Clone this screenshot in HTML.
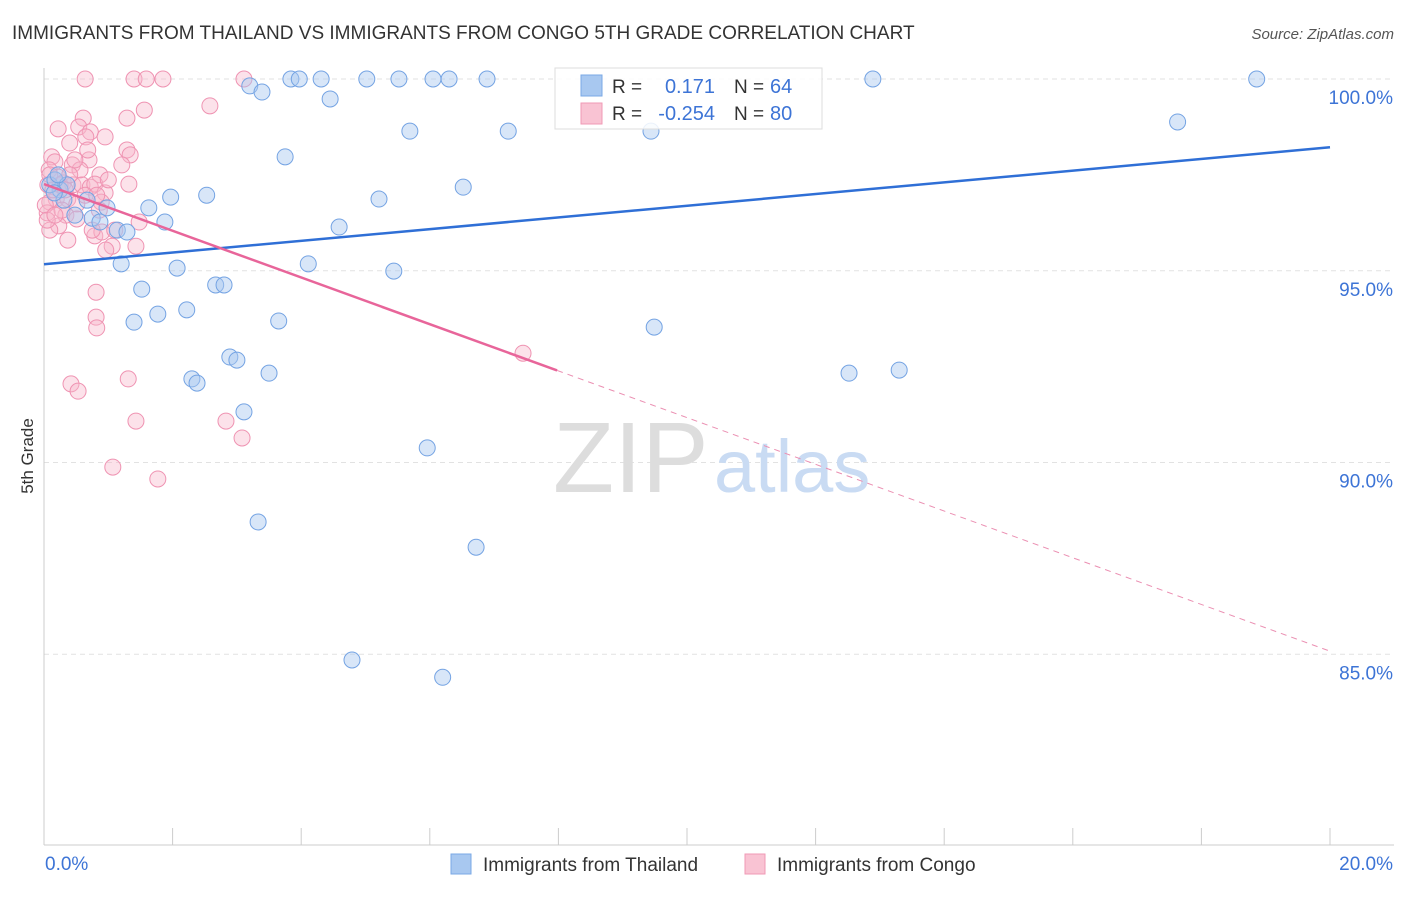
<!DOCTYPE html>
<html><head><meta charset="utf-8"><style>
body{margin:0;background:#fff;font-family:"Liberation Sans",sans-serif;}
svg text{font-family:"Liberation Sans",sans-serif;}
</style></head><body>
<svg id="chart" width="1406" height="892">
<text x="12" y="39" font-size="19" fill="#333">IMMIGRANTS FROM THAILAND VS IMMIGRANTS FROM CONGO 5TH GRADE CORRELATION CHART</text>
<text x="1394" y="39" font-size="15" fill="#555" text-anchor="end" font-style="italic">Source: ZipAtlas.com</text>
<text x="33" y="456" font-size="17" fill="#333" transform="rotate(-90 33 456)" text-anchor="middle">5th Grade</text>
<g id="grid"></g>
<text x="553" y="492" font-size="100" fill="#ddd" font-family="Liberation Serif">ZIP</text>
<text x="714" y="492" font-size="74" fill="#c9dbf3">atlas</text>
<g id="pts"></g>
<g id="lines"></g>
<g>
<rect x="555" y="68" width="267" height="61" fill="#fff" fill-opacity="0.85" stroke="#ddd"/>
<rect x="581" y="75" width="21" height="21" fill="#a8c8f0" stroke="#7aa8e6"/>
<rect x="581" y="103" width="21" height="21" fill="#f9c3d3" stroke="#f09ab6"/>
<text x="612" y="93" font-size="19" fill="#333">R =</text>
<text x="715" y="93" font-size="20" fill="#3d74d6" text-anchor="end">0.171</text>
<text x="734" y="93" font-size="19" fill="#333">N =</text>
<text x="770" y="93" font-size="20" fill="#3d74d6">64</text>
<text x="612" y="120" font-size="19" fill="#333">R =</text>
<text x="715" y="120" font-size="20" fill="#3d74d6" text-anchor="end">-0.254</text>
<text x="734" y="120" font-size="19" fill="#333">N =</text>
<text x="770" y="120" font-size="20" fill="#3d74d6">80</text>
</g>
<g>
<rect x="451" y="854" width="20" height="20" fill="#a8c8f0" stroke="#7aa8e6"/>
<text x="483" y="871" font-size="19" fill="#333">Immigrants from Thailand</text>
<rect x="745" y="854" width="20" height="20" fill="#f9c3d3" stroke="#f09ab6"/>
<text x="777" y="871" font-size="19" fill="#333">Immigrants from Congo</text>
</g>
</svg>
<script>
const blueX=[3.20,3.39,3.84,3.97,4.31,5.02,5.52,6.05,6.30,6.89,12.89,18.86,4.45,5.69,7.22,9.44,17.63,3.75,6.52,5.21,1.97,2.53,1.63,0.98,0.67,0.25,0.09,0.17,0.48,0.75,0.87,1.14,1.29,1.88,4.59,1.20,2.07,4.11,5.44,1.52,2.67,2.80,2.22,1.77,1.40,3.65,9.49,2.89,3.00,3.50,2.30,2.38,12.52,13.30,3.11,5.96,3.33,6.72,4.79,6.20,0.36,0.31,0.16,0.22];
const blueY=[99.82,99.66,100,100,100,100,100,100,100,100,100,100,99.48,98.64,98.64,98.64,98.88,97.97,97.18,96.87,96.92,96.97,96.64,96.64,96.84,97.11,97.24,97.37,96.45,96.37,96.27,96.06,96.01,96.27,96.14,95.18,95.07,95.18,94.99,94.52,94.63,94.63,93.98,93.87,93.66,93.69,93.53,92.75,92.67,92.33,92.18,92.07,92.33,92.41,91.32,90.38,88.45,87.79,84.85,84.40,97.24,96.84,97.03,97.50];
const pinkX=[0.64,1.40,1.59,1.85,3.11,2.58,1.56,0.61,1.29,0.22,0.54,0.72,0.95,0.65,0.40,1.29,1.34,0.12,0.17,0.70,0.44,1.21,0.87,0.08,0.22,0.30,0.45,0.59,0.72,0.79,1.32,0.95,0.19,0.09,0.37,0.51,0.89,0.86,0.05,0.34,0.51,0.23,0.09,0.79,0.90,1.48,0.37,1.06,0.96,1.43,0.81,0.81,0.82,0.42,0.53,1.31,1.43,2.83,3.08,1.07,1.77,7.45,0.06,0.14,0.25,0.33,0.02,0.56,0.68,0.05,1.00,0.28,0.64,0.17,0.75,1.10,0.40,0.09,0.48,0.82];
const pinkY=[100,100,100,100,100,99.30,99.19,98.98,98.98,98.70,98.75,98.62,98.49,98.49,98.33,98.15,98.02,97.97,97.84,97.89,97.76,97.76,97.50,97.63,97.44,97.29,97.24,97.24,97.18,97.26,97.26,97.03,96.87,96.79,96.87,96.74,96.79,96.58,96.51,96.45,96.35,96.17,96.06,95.91,96.01,96.27,95.80,95.64,95.54,95.64,94.44,93.79,93.51,92.05,91.86,92.18,91.08,91.08,90.64,89.88,89.57,92.85,97.24,97.11,97.24,97.11,96.71,97.63,98.15,96.32,97.37,96.58,96.97,96.45,96.06,96.06,97.50,97.50,97.89,96.97];
const blueTrend=[95.17,98.22];
const pinkTrend=[97.26,85.08];
const yTicks=[100,95,90,85];
const yTickLabels=["100.0%","95.0%","90.0%","85.0%"];
const xTickLabels=["0.0%","20.0%"];

const X=v=>44+v/20*1286;
const Y=v=>79+(100-v)*38.35;
const NS="http://www.w3.org/2000/svg";
function mk(tag,attrs,parent){const e=document.createElementNS(NS,tag);for(const k in attrs)e.setAttribute(k,attrs[k]);parent.appendChild(e);return e;}
const grid=document.getElementById('grid');
yTicks.forEach((t,i)=>{
  const l=mk('line',{x1:44,x2:1394,y1:Y(t),y2:Y(t),stroke:'#e2e2e2','stroke-dasharray':'5,4'},grid);
  
  
  const tx=mk('text',{x:1393,y:Y(t)+25,'font-size':19,fill:'#3d74d6','text-anchor':'end'},grid);
  tx.textContent=yTickLabels[i];
  
  
});
const ax=mk('line',{x1:44,x2:44,y1:68,y2:845,stroke:'#ccc'},grid);


const bx=mk('line',{x1:44,x2:1394,y1:845,y2:845,stroke:'#ccc'},grid);


for(let i=0;i<=10;i++){
  const t=mk('line',{x1:X(i*2),x2:X(i*2),y1:828,y2:845,stroke:'#ccc'},grid);
  
  
}
[[0,'start',X(0)+1],[20,'end',1393]].forEach((a,i)=>{
  const tx=mk('text',{x:a[2],y:870,'font-size':19,fill:'#3d74d6','text-anchor':a[1]},grid);
  tx.textContent=xTickLabels[i];
  
  
});
const pts=document.getElementById('pts');
pinkX.forEach((x,i)=>{
  const c=mk('circle',{cx:X(x),cy:Y(pinkY[i]),r:8,fill:'#f7b6ca','fill-opacity':0.4,stroke:'#ef93b2','stroke-width':1},pts);
  
  
});
blueX.forEach((x,i)=>{
  const c=mk('circle',{cx:X(x),cy:Y(blueY[i]),r:8,fill:'#a8c8f0','fill-opacity':0.45,stroke:'#74a3e3','stroke-width':1},pts);
  
  
});
const lines=document.getElementById('lines');
const bl=mk('line',{x1:X(0),y1:Y(blueTrend[0]),x2:X(20),y2:Y(blueTrend[1]),stroke:'#2f6fd6','stroke-width':2.5},lines);


const pAt=x=>pinkTrend[0]+(pinkTrend[1]-pinkTrend[0])*x/20;
const solidEnd=7.98;
const pl=mk('line',{x1:X(0),y1:Y(pAt(0)),x2:X(solidEnd),y2:Y(pAt(solidEnd)),stroke:'#e8659a','stroke-width':2.5},lines);


const pd=mk('line',{x1:X(solidEnd),y1:Y(pAt(solidEnd)),x2:X(20),y2:Y(pAt(20)),stroke:'#eb8fb2','stroke-width':1,'stroke-dasharray':'6,5'},lines);


</script>
</body></html>
